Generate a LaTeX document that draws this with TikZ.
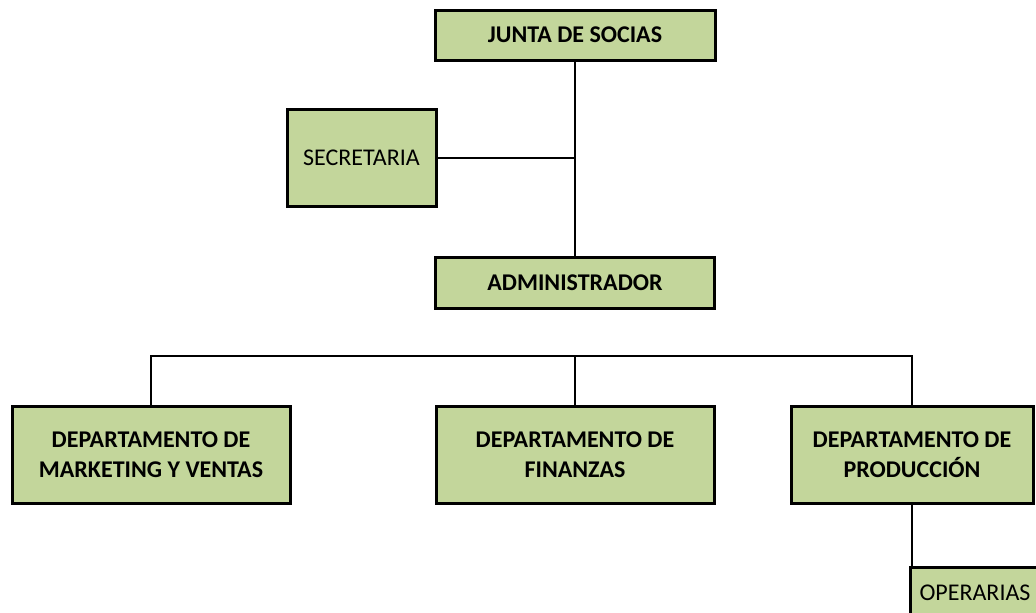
\documentclass[tikz,border=0pt]{standalone}
\usepackage{fontspec}
\setmainfont{Carlito}
\definecolor{boxgreen}{RGB}{195,214,155}

\begin{document}
\begin{tikzpicture}[x=1pt, y=-1pt,
    cargo/.style={draw=black, line width=3pt, fill=boxgreen, align=center,
        inner sep=0pt, font=\bfseries\fontsize{24}{30}\selectfont},
    cargolight/.style={cargo, font=\fontsize{24}{30}\selectfont},
    enlace/.style={line width=2pt}]
    \useasboundingbox (0,0) rectangle (1036,613);
    \clip (0,0) rectangle (1036,613);

    % Junta y administrador
    \node[cargo, minimum width=280, minimum height=50] (junta) at (575,35) {JUNTA DE SOCIAS};
    \node[cargolight, minimum width=149, minimum height=97] (secretaria) at (361.5,158) {SECRETARIA};
    \node[cargo, minimum width=279, minimum height=51] (admin) at (575,282.5) {ADMINISTRADOR};

    % Departamentos
    \node[cargo, minimum width=278, minimum height=97] (marketing) at (151,454.5) {DEPARTAMENTO DE\\MARKETING Y VENTAS};
    \node[cargo, minimum width=278, minimum height=97] (finanzas) at (575,454.5) {DEPARTAMENTO DE\\FINANZAS};
    \node[cargo, minimum width=242, minimum height=97] (produccion) at (912,454.5) {DEPARTAMENTO DE\\PRODUCCI\'ON};
    \node[cargolight, minimum width=130, minimum height=52] (operarias) at (975,593) {OPERARIAS};

    % Conexiones
    \coordinate (barra) at (575,356);
    \draw[enlace] (junta.south) -- (admin.north);
    \draw[enlace] (secretaria.east) -- (junta.south |- secretaria.east);
    \draw[enlace] (marketing.north) |- (barra) -| (produccion.north);
    \draw[enlace] (finanzas.north) -- (barra);
    \draw[enlace] (produccion.south) -- (produccion.south |- operarias.north);
\end{tikzpicture}
\end{document}
